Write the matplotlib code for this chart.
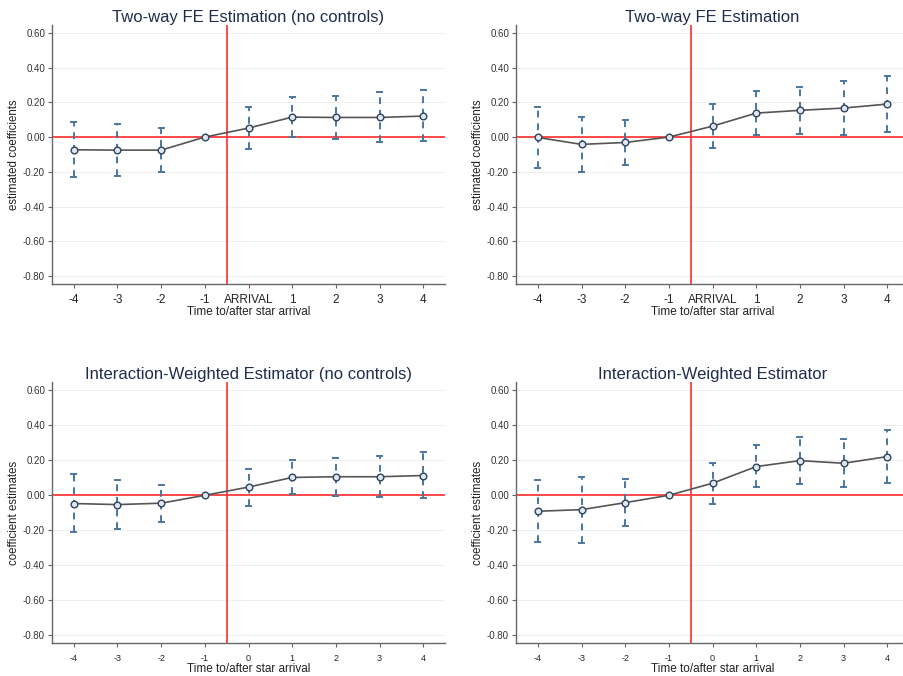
import matplotlib.pyplot as plt

plt.rcParams['font.family'] = ['Liberation Sans', 'DejaVu Sans']

# event time (-1 is the omitted reference period)
periods = [-4, -3, -2, -1, 0, 1, 2, 3, 4]
labels_fe = ['-4', '-3', '-2', '-1', 'ARRIVAL', '1', '2', '3', '4']
labels_iw = ['-4', '-3', '-2', '-1', '0', '1', '2', '3', '4']

# two-way FE, no controls
fe_nc = [-0.073, -0.075, -0.075, 0.0, 0.052, 0.115, 0.113, 0.113, 0.121]
fe_nc_lo = [-0.231, -0.223, -0.202, 0.0, -0.069, -0.002, -0.012, -0.029, -0.025]
fe_nc_hi = [0.087, 0.075, 0.054, 0.0, 0.173, 0.233, 0.237, 0.258, 0.271]

# two-way FE, with controls
fe = [-0.002, -0.042, -0.031, 0.0, 0.063, 0.138, 0.154, 0.167, 0.190]
fe_lo = [-0.179, -0.202, -0.158, 0.0, -0.063, 0.012, 0.017, 0.012, 0.027]
fe_hi = [0.171, 0.113, 0.098, 0.0, 0.188, 0.265, 0.287, 0.321, 0.352]

# interaction-weighted, no controls
iw_nc = [-0.047, -0.053, -0.045, 0.0, 0.047, 0.102, 0.106, 0.106, 0.113]
iw_nc_lo = [-0.211, -0.194, -0.153, 0.0, -0.060, 0.006, -0.002, -0.009, -0.017]
iw_nc_hi = [0.121, 0.089, 0.060, 0.0, 0.151, 0.200, 0.211, 0.223, 0.245]

# interaction-weighted, with controls
iw = [-0.091, -0.082, -0.042, 0.0, 0.069, 0.164, 0.198, 0.183, 0.221]
iw_lo = [-0.269, -0.270, -0.177, 0.0, -0.048, 0.046, 0.065, 0.046, 0.072]
iw_hi = [0.088, 0.105, 0.095, 0.0, 0.183, 0.286, 0.333, 0.322, 0.371]

yticks = [0.6, 0.4, 0.2, 0.0, -0.2, -0.4, -0.6, -0.8]


def event_plot(ax, est, lo, hi, title, ylabel, xlabels, xfs):
    ax.set_xlim(-4.5, 4.5)
    ax.set_ylim(-0.845, 0.645)
    for yv in yticks:
        ax.axhline(yv, color='#efefef', lw=0.8, zorder=0)
    ax.axhline(0, color='#ff3b3b', lw=1.3, zorder=1)
    ax.axvline(-0.5, color='#ff3b3b', lw=1.3, zorder=1)
    for x, l, h in zip(periods, lo, hi):
        if x == -1:
            continue
        ax.plot([x, x], [l, h], color='#4a76a0', lw=1.4, ls=(0, (3.5, 3)), zorder=2)
        ax.plot([x - 0.06, x + 0.06], [h, h], color='#4a76a0', lw=1.4, zorder=2)
        ax.plot([x - 0.06, x + 0.06], [l, l], color='#4a76a0', lw=1.4, zorder=2)
    ax.plot(periods, est, color='#555555', lw=1.2, zorder=3)
    ax.plot(periods, est, ls='none', marker='o', ms=4.8, mfc='#dfe6ee',
            mec='#2a4460', mew=1.0, zorder=4)
    ax.set_xticks(periods)
    ax.set_xticklabels(xlabels, fontsize=xfs, color='#222222')
    ax.set_yticks(yticks)
    ax.set_yticklabels(['%.2f' % v for v in yticks], fontsize=7, color='#333333')
    ax.tick_params(axis='both', length=3, width=0.8, color='#666666', pad=2)
    ax.tick_params(axis='x', pad=4 if xfs > 7 else 5)
    for s in ['top', 'right']:
        ax.spines[s].set_visible(False)
    for s in ['left', 'bottom']:
        ax.spines[s].set_color('#666666')
        ax.spines[s].set_linewidth(1.0)
    ax.set_title(title, fontsize=12, color='#1e2d4d', pad=2.5)
    ax.set_ylabel(ylabel, fontsize=8.3, color='#222222', labelpad=2)
    ax.set_xlabel('Time to/after star arrival', fontsize=8.5, color='#222222', labelpad=0)


fig = plt.figure(figsize=(9.04, 6.76), dpi=100)
ax1 = fig.add_axes([0.0575, 0.580, 0.4348, 0.383])
ax2 = fig.add_axes([0.5708, 0.580, 0.4348, 0.383])
ax3 = fig.add_axes([0.0575, 0.0484, 0.4348, 0.386])
ax4 = fig.add_axes([0.5708, 0.0484, 0.4348, 0.386])

event_plot(ax1, fe_nc, fe_nc_lo, fe_nc_hi, 'Two-way FE Estimation (no controls)',
           'estimated coefficients', labels_fe, 8.5)
event_plot(ax2, fe, fe_lo, fe_hi, 'Two-way FE Estimation',
           'estimated coefficients', labels_fe, 8.5)
event_plot(ax3, iw_nc, iw_nc_lo, iw_nc_hi, 'Interaction-Weighted Estimator (no controls)',
           'coefficient estimates', labels_iw, 6.5)
event_plot(ax4, iw, iw_lo, iw_hi, 'Interaction-Weighted Estimator',
           'coefficient estimates', labels_iw, 6.5)

fig.savefig('out.png', dpi=100)
